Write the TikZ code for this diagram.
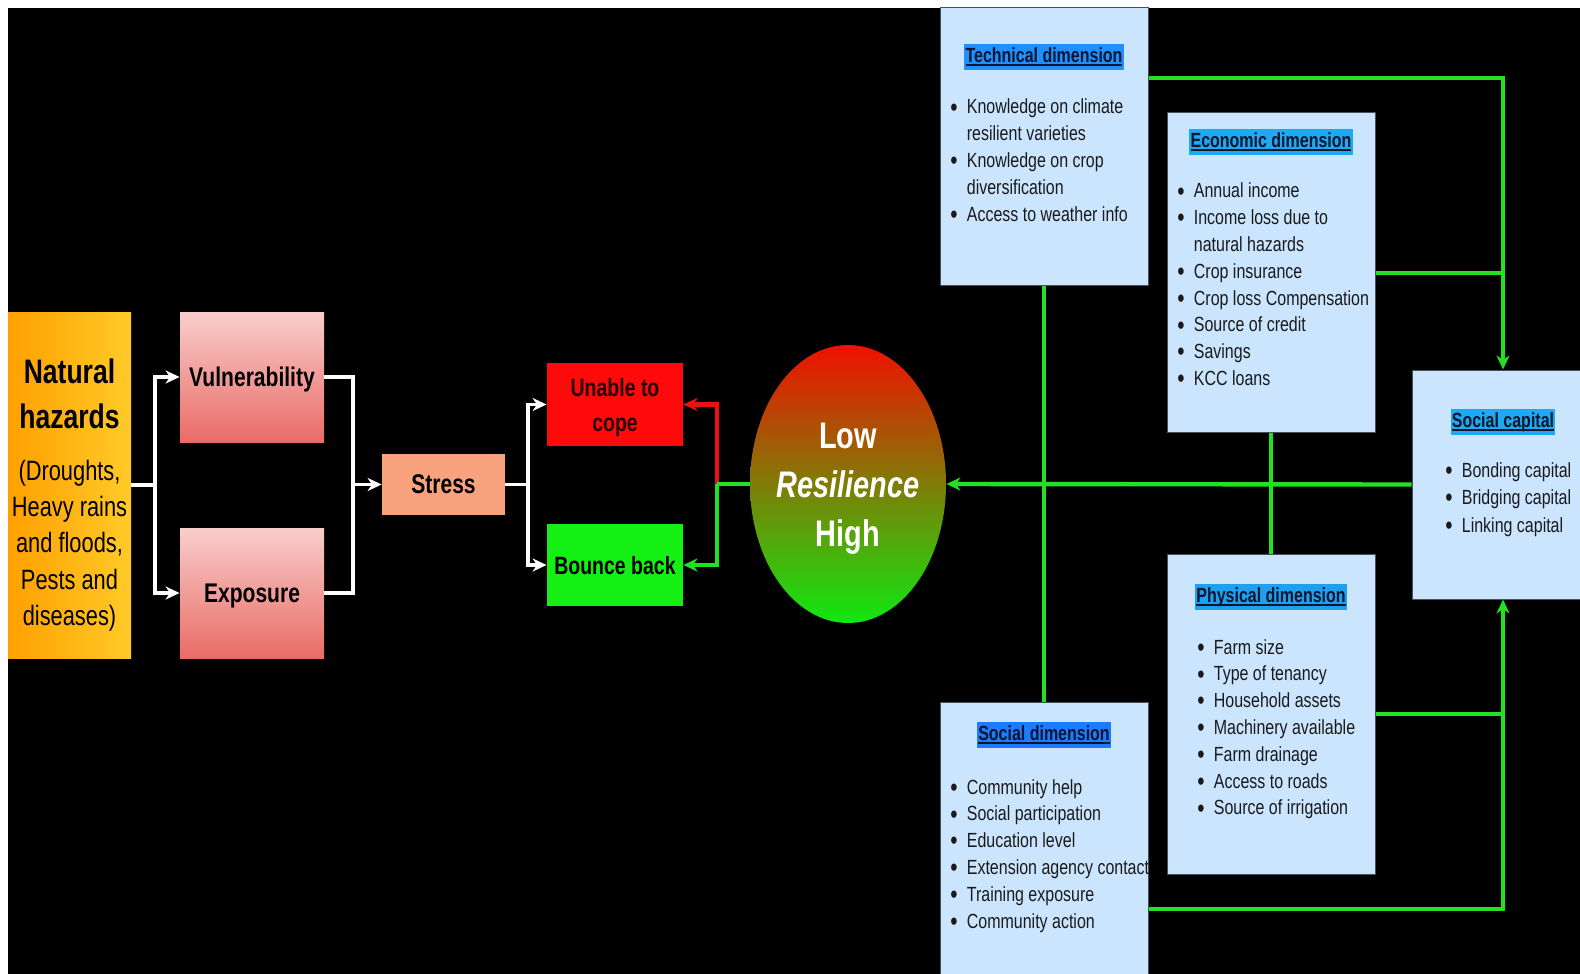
\documentclass[tikz,border=0pt]{standalone}
\usepackage{fontspec}
\setmainfont{Liberation Sans}[FakeStretch=0.78]
\usetikzlibrary{arrows.meta,shapes.geometric}
\definecolor{boxblue}{HTML}{CCE5FF}
\definecolor{boxline}{HTML}{4A5058}
\definecolor{gline}{HTML}{22E022}
\definecolor{rline}{HTML}{EE1010}
\definecolor{hlTech}{RGB}{30,144,255}
\definecolor{hlEcon}{RGB}{30,170,240}
\definecolor{hlSoc}{RGB}{30,122,255}
\definecolor{hlPhys}{RGB}{30,160,240}
\definecolor{hlCap}{RGB}{30,170,240}
\definecolor{titletext}{HTML}{0A1530}
\definecolor{listtext}{HTML}{1A1A1A}
\definecolor{pinktop}{HTML}{F8CECC}
\definecolor{pinkbot}{HTML}{EA6B66}
\definecolor{nhleft}{HTML}{FFA000}
\definecolor{nhright}{HTML}{FFCA28}
\definecolor{stresscol}{HTML}{F8A27E}
\definecolor{unablecol}{HTML}{FF0A0A}
\definecolor{bouncecol}{HTML}{14F014}
\definecolor{restop}{HTML}{F01000}
\definecolor{resbot}{HTML}{10E810}
\newcommand{\myul}[1]{\setbox0=\hbox{#1}\rlap{\copy0}\rule[-1.6pt]{\wd0}{0.8pt}}
\newcommand{\mybul}{\raisebox{-1.1pt}{\scalebox{1.3}{\textbullet}}}
\newcommand{\blist}[1]{\begin{tabular}[t]{@{}l@{\hspace{4.6pt}}l@{}}#1\end{tabular}}
\begin{document}
\begin{tikzpicture}[x=0.5pt,y=-0.5pt,
  infobox/.style={rectangle,inner sep=0pt,draw=boxline,line width=0.5pt,fill=boxblue,minimum width=104pt},
  dimtitle/.style={fill=#1,inner xsep=0.6pt,inner ysep=1.3pt,text height=8pt,text depth=2.5pt,text=titletext,font=\fontsize{10.25}{12}\selectfont\bfseries},
  dimlist/.style={anchor=base west,inner sep=0pt,text=listtext,font=\fontsize{10.25}{13.4}\selectfont},
  pinkbox/.style={rectangle,inner sep=0pt,top color=pinktop,bottom color=pinkbot,draw=none,minimum width=72pt,minimum height=65pt,text depth=0pt,font=\fontsize{13.5}{16}\selectfont\bfseries},
  warrow/.style={draw=white,line width=1.7pt,-{Stealth[length=7pt,width=6.5pt,inset=2.2pt]}},
  wline/.style={draw=white,line width=1.7pt},
  garrow/.style={draw=gline,line width=2.2pt,-{Stealth[length=7pt,width=6.5pt,inset=2.2pt]}},
  gline/.style={draw=gline,line width=2.2pt},
  rarrow/.style={draw=rline,line width=2.2pt,-{Stealth[length=7pt,width=6.5pt,inset=2.2pt]}}]
\useasboundingbox (0,0) rectangle (1580,974);
\clip (0,0) rectangle (1580,974);
\fill[white] (0,0) rectangle (1580,974);
\fill[black] (8,8) rectangle (1580,974);

% left chain
\node[rectangle,inner sep=0pt,left color=nhleft,right color=nhright,minimum width=61.5pt,minimum height=173pt] (nh) at (69.5,485) {};
\node[inner sep=0pt,align=center,font=\fontsize{17}{22.5}\selectfont\bfseries] (nhT) at (69.5,393.5) {Natural\\hazards};
\node[inner sep=0pt,align=center,font=\fontsize{14}{18.15}\selectfont] (nhS) at (69.5,545.5) {(Droughts,\\Heavy rains\\and floods,\\Pests and\\diseases)};
\node[pinkbox] (vul) at (252,377) {Vulnerability};
\node[pinkbox] (exp) at (252,593) {Exposure};
\node[rectangle,inner sep=0pt,fill=stresscol,minimum width=61.5pt,minimum height=30.5pt,text depth=0pt,font=\fontsize{13.5}{16}\selectfont\bfseries] (stress) at (443.5,484.5) {Stress};
\node[rectangle,inner sep=0pt,fill=unablecol,minimum width=68pt,minimum height=41.5pt,align=center,text depth=0pt,text=black!85!red,font=\fontsize{12.5}{17.5}\selectfont\bfseries] (unable) at (615,404.5) {Unable to\\cope};
\node[rectangle,inner sep=0pt,fill=bouncecol,minimum width=68pt,minimum height=41pt,text depth=0pt,font=\fontsize{12.5}{15}\selectfont\bfseries] (bounce) at (615,565) {Bounce back};
\node[ellipse,inner sep=0pt,top color=restop,bottom color=resbot,minimum width=98pt,minimum height=139pt] (res) at (848,484) {};
\node[inner sep=0pt,align=center,text=white,text depth=0pt,font=\fontsize{18.5}{24.5}\selectfont\bfseries] (resT) at (848,485) {Low\\\textit{Resilience}\\High};

% dimension boxes
\node[infobox,minimum height=138.5pt] (tech) at (1044,146.5) {};
\node[infobox,minimum height=159.5pt] (econ) at (1271,272.5) {};
\node[infobox,minimum height=160pt] (phys) at (1271,714) {};
\node[infobox,minimum height=144pt] (soc) at (1044,846) {};
\node[infobox,minimum width=91pt,minimum height=114.5pt] (cap) at (1503,484.5) {};

\node[dimtitle=hlTech] (techT) at (1044,57) {\myul{Technical dimension}};
\node[dimtitle=hlEcon] (econT) at (1271,142) {\myul{Economic dimension}};
\node[dimtitle=hlPhys] (physT) at (1271,597) {\myul{Physical dimension}};
\node[dimtitle=hlSoc] (socT) at (1044,735) {\myul{Social dimension}};
\node[dimtitle=hlCap] (capT) at (1503,422) {\myul{Social capital}};

\node[dimlist] (techL) at (950,114) {\blist{\mybul & Knowledge on climate\\ & resilient varieties\\ \mybul & Knowledge on crop\\ & diversification\\ \mybul & Access to weather info}};
\node[dimlist] (econL) at (1177,198) {\blist{\mybul & Annual income\\ \mybul & Income loss due to\\ & natural hazards\\ \mybul & Crop insurance\\ \mybul & Crop loss Compensation\\ \mybul & Source of credit\\ \mybul & Savings\\ \mybul & KCC loans}};
\node[dimlist] (physL) at (1197,654) {\blist{\mybul & Farm size\\ \mybul & Type of tenancy\\ \mybul & Household assets\\ \mybul & Machinery available\\ \mybul & Farm drainage\\ \mybul & Access to roads\\ \mybul & Source of irrigation}};
\node[dimlist] (socL) at (950,794) {\blist{\mybul & Community help\\ \mybul & Social participation\\ \mybul & Education level\\ \mybul & Extension agency contact\\ \mybul & Training exposure\\ \mybul & Community action}};
\node[dimlist,font=\fontsize{10.25}{13.75}\selectfont] (capL) at (1445,477) {\blist{\mybul & Bonding capital\\ \mybul & Bridging capital\\ \mybul & Linking capital}};

% junction coordinates
\coordinate (j1) at (155,485);
\coordinate (j2) at (353,484.5);
\coordinate (j3) at (528,484.5);
\coordinate (j4) at (717,484);
\coordinate (ttop) at (1503,78);
\coordinate (eY) at (1503,273);
\coordinate (pY) at (1503,714);
\coordinate (sY) at (1503,909);

% white connectors
\draw[wline] (nh.east |- j1) -- (j1);
\draw[warrow] (j1) |- (vul.west);
\draw[warrow] (j1) |- (exp.west);
\draw[wline] (vul.east) -| (j2);
\draw[wline] (exp.east) -| (j2);
\draw[warrow] (j2) -- (stress.west);
\draw[wline] (stress.east) -- (j3);
\draw[warrow] (j3) |- (unable.west);
\draw[warrow] (j3) |- (bounce.west);

% resilience outcomes
\draw[rarrow] (j4) |- (unable.east);
\draw[gline] (res.west) -- (j4);
\draw[garrow] (j4) |- (bounce.east);

% green connectors on right
\draw[gline] (tech.south) -- (soc.north);
\draw[gline] (econ.south) -- (phys.north);
\draw[garrow] (cap.west) -- (res.east);
\draw[garrow] (tech.east |- ttop) -| (cap.north);
\draw[gline] (econ.east |- eY) -- (eY);
\draw[gline] (phys.east |- pY) -- (pY);
\draw[garrow] (soc.east |- sY) -| (cap.south);
\end{tikzpicture}
\end{document}
